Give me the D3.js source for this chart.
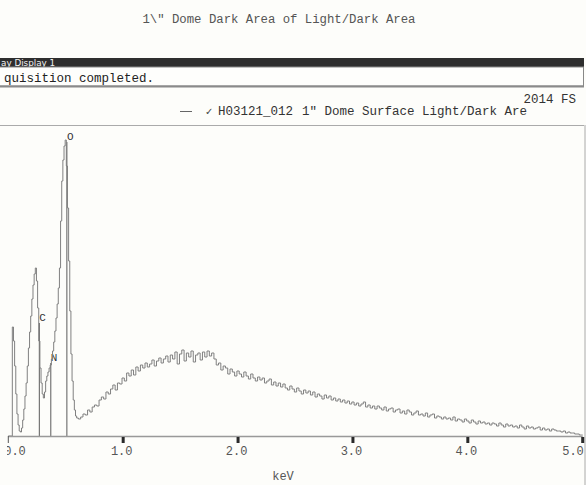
<!DOCTYPE html>
<html>
<head>
<meta charset="utf-8">
<script src="https://cdn.jsdelivr.net/npm/d3@7/dist/d3.min.js"></script>
<style>
  html, body { margin: 0; padding: 0; background: #fdfdfa; }
  svg { display: block; }
</style>
</head>
<body>
<div id="chart"></div>
<script>
// ---------- data ----------
const chartTitle = '1\\" Dome Dark Area of Light/Dark Area';
const windowTitle = "ay Display 1";          // visible part of the cropped window title
const statusText = "quisition completed.";   // visible part of the cropped status line
const sampleId = "H03121_012";
const sampleDesc = '1" Dome Surface Light/Dark Are';
const cornerText = "2014 FS";
const xLabel = "keV";
const xTicks = [0, 1, 2, 3, 4, 5];
const xTickLabels = ["0.0", "1.0", "2.0", "3.0", "4.0", "5.0"];

// low-energy peak region: 0.00 - 0.59 keV, 0.01 keV per channel
const peakStart = 0.00, peakWidth = 0.01;
const peakCounts = [
  0, 0, 0, 0, 109, 95, 70, 42, 22, 11,
  5, 4, 8, 16, 27, 40, 53, 70, 88, 104,
  120, 137, 151, 162, 168, 155, 128, 95, 68, 53,
  42, 38, 44, 55, 60, 64, 68, 71, 77, 85,
  94, 105, 118, 132, 148, 168, 215, 255, 276, 290,
  296, 270, 228, 175, 125, 82, 55, 36, 26, 20
];

// continuum: 0.60 - 5.00 keV, 0.02 keV per channel
const contStart = 0.60, contWidth = 0.02;
const contCounts = [
  18, 17, 19, 22, 21, 26, 24, 29, 31, 30,
  36, 39, 37, 44, 42, 47, 51, 46, 53, 52,
  58, 55, 63, 60, 66, 61, 69, 65, 71, 68,
  73, 69, 72, 76, 70, 75, 78, 73, 77, 80,
  74, 81, 77, 84, 72, 82, 86, 75, 83, 79,
  85, 74, 81, 83, 76, 84, 79, 85, 80, 83,
  77, 71, 73, 66, 70, 68, 62, 67, 64, 60,
  65, 62, 59, 64, 60, 57, 62, 58, 55, 59,
  56, 58, 53, 55, 57, 51, 54, 50, 53, 49,
  52, 48, 46, 50, 47, 44, 48, 45, 42, 46,
  43, 45, 41, 44, 39, 42, 40, 37, 41, 38,
  40, 36, 38, 35, 37, 34, 36, 33, 35, 32,
  34, 31, 33, 30, 32, 34, 29, 31, 28, 30,
  27, 30, 28, 26, 29, 25, 27, 28, 24, 26,
  27, 23, 25, 22, 26, 24, 21, 23, 25, 21,
  22, 20, 23, 19, 21, 22, 18, 20, 19, 17,
  19, 17, 18, 16, 19, 15, 17, 16, 14, 17,
  15, 13, 16, 14, 12, 15, 13, 14, 12, 13,
  11, 13, 12, 10, 13, 11, 9, 12, 10, 11,
  9, 10, 8, 11, 9, 7, 10, 8, 9, 7,
  8, 9, 6, 8, 6, 7, 5, 7, 6, 5,
  5, 4, 5, 3, 4, 3, 3, 2, 2, 1, 1
];

const markerNames = ["C", "N", "O"];
const markerEnergies = [0.27, 0.37, 0.51];
const markerHeights = [113, 73, 294];

// ---------- layout ----------
const W = 586, H = 485;
const svg = d3.select("#chart").append("svg")
  .attr("width", W).attr("height", H)
  .style("background", "#fdfdfa");

const mono = "'Liberation Mono', 'Courier New', monospace";

const x = d3.scaleLinear().domain([0, 5]).range([8.3, 582.7]);
const y = d3.scaleLinear().domain([0, 300]).range([436, 136]);

// title
svg.append("text")
  .attr("x", 279).attr("y", 23)
  .attr("text-anchor", "middle")
  .attr("font-family", mono).attr("font-size", 12.3)
  .attr("fill", "#555")
  .text(chartTitle);

// window title bar
svg.append("rect").attr("x", 0).attr("y", 58).attr("width", 584).attr("height", 9)
  .attr("fill", "#2e2e2e");
svg.append("text")
  .attr("x", 1).attr("y", 65.5)
  .attr("font-family", "'DejaVu Sans', sans-serif").attr("font-size", 8.8)
  .attr("fill", "#f2f2f2")
  .text(windowTitle);

// status box
svg.append("rect").attr("x", -1).attr("y", 67).attr("width", 584.5).attr("height", 19)
  .attr("fill", "#fefefc").attr("stroke", "#888").attr("stroke-width", 1);
svg.append("line").attr("x1", 0).attr("x2", 584).attr("y1", 86.5).attr("y2", 86.5)
  .attr("stroke", "#8a8a8a").attr("stroke-width", 2);
svg.append("text")
  .attr("x", 4).attr("y", 82)
  .attr("font-family", mono).attr("font-size", 12.5)
  .attr("fill", "#222")
  .text(statusText);

// legend row
svg.append("line").attr("x1", 0).attr("x2", 584).attr("y1", 125.5).attr("y2", 125.5)
  .attr("stroke", "#aaa").attr("stroke-width", 1);
svg.append("line").attr("x1", 585).attr("x2", 585).attr("y1", 125).attr("y2", H)
  .attr("stroke", "#aaa").attr("stroke-width", 1);
svg.append("text")
  .attr("x", 576).attr("y", 103).attr("text-anchor", "end")
  .attr("font-family", mono).attr("font-size", 12.5)
  .attr("fill", "#333")
  .text(cornerText);
svg.append("line").attr("x1", 180).attr("x2", 192).attr("y1", 111.5).attr("y2", 111.5)
  .attr("stroke", "#666").attr("stroke-width", 1);
svg.append("text")
  .attr("x", 205).attr("y", 115)
  .attr("font-family", "'DejaVu Sans', sans-serif").attr("font-size", 10)
  .attr("fill", "#444")
  .text("\u2713");
svg.append("text")
  .attr("x", 218).attr("y", 115)
  .attr("font-family", mono).attr("font-size", 12.5)
  .attr("fill", "#333")
  .text(sampleId);
svg.append("text")
  .attr("x", 302).attr("y", 115)
  .attr("font-family", mono).attr("font-size", 12.5)
  .attr("fill", "#333")
  .text(sampleDesc);

// ---------- plot ----------
const data = peakCounts.map((c, i) => ({ e: peakStart + i * peakWidth, c }))
  .concat(contCounts.map((c, i) => ({ e: contStart + i * contWidth, c })));

// element marker lines
const mk = svg.append("g");
markerNames.forEach((name, i) => {
  const xe = x(markerEnergies[i]);
  mk.append("line")
    .attr("x1", xe).attr("x2", xe)
    .attr("y1", y(0)).attr("y2", y(markerHeights[i]))
    .attr("stroke", "#5a5a5a").attr("stroke-width", 1);
  mk.append("text")
    .attr("x", xe).attr("y", y(markerHeights[i]) - 2)
    .attr("font-family", mono).attr("font-size", 11)
    .attr("fill", "#333")
    .text(name);
});

// spectrum
const line = d3.line()
  .x(d => x(d.e))
  .y(d => y(d.c))
  .curve(d3.curveStep);
svg.append("path")
  .datum(data)
  .attr("d", line)
  .attr("fill", "none")
  .attr("stroke", "#808080")
  .attr("stroke-width", 1);

// x axis
svg.append("line")
  .attr("x1", x(0)).attr("x2", x(5))
  .attr("y1", y(0) + 0.5).attr("y2", y(0) + 0.5)
  .attr("stroke", "#999").attr("stroke-width", 1.5);

const ax = svg.append("g");
xTicks.forEach((t, i) => {
  ax.append("line")
    .attr("x1", x(t)).attr("x2", x(t))
    .attr("y1", y(0) + (i === 0 ? 0 : 1)).attr("y2", y(0) + 7)
    .attr("stroke", i === 0 ? "#555" : "#2a2a2a")
    .attr("stroke-width", i === 0 ? 1 : 3);
});

svg.append("clipPath").attr("id", "labclip")
  .append("rect").attr("x", 7).attr("y", 440).attr("width", 577).attr("height", 30);

const labels = svg.append("g").attr("clip-path", "url(#labclip)");
labels.selectAll("text")
  .data(xTicks)
  .join("text")
  .attr("x", d => Math.max(15, Math.min(573, x(d) - 1.5)))
  .attr("y", 455)
  .attr("text-anchor", "middle")
  .attr("font-family", mono).attr("font-size", 12)
  .attr("fill", "#555")
  .text((d, i) => xTickLabels[i]);

svg.append("text")
  .attr("x", 283).attr("y", 480)
  .attr("text-anchor", "middle")
  .attr("font-family", mono).attr("font-size", 12)
  .attr("fill", "#555")
  .text(xLabel);
</script>
</body>
</html>
